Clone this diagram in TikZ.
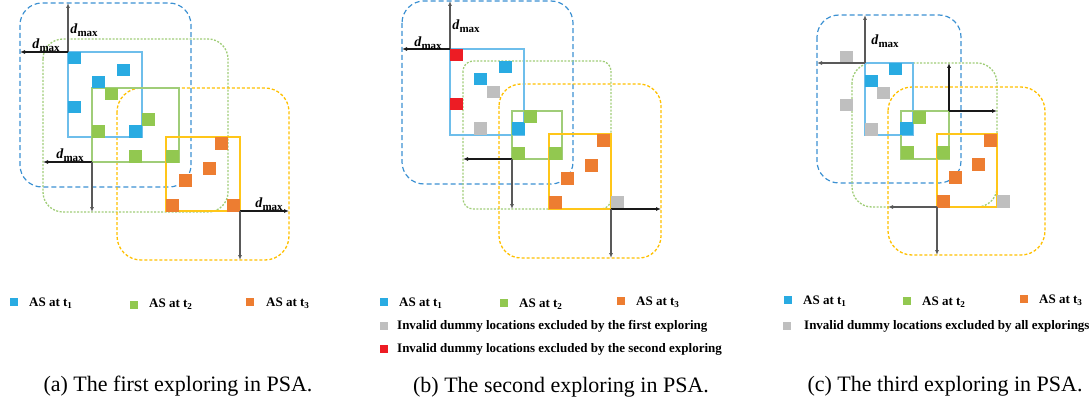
\documentclass[tikz,border=0pt]{standalone}
\usepackage{fontspec}
\setmainfont{Liberation Serif}
\usetikzlibrary{arrows.meta}
\definecolor{asblue}{RGB}{41,171,226}
\definecolor{asgreen}{RGB}{146,200,80}
\definecolor{asorange}{RGB}{237,125,49}
\definecolor{asgray}{RGB}{191,191,191}
\definecolor{asred}{RGB}{237,28,36}
\definecolor{outblue}{RGB}{60,145,210}
\definecolor{boxblue}{RGB}{110,190,235}
\definecolor{outgreen}{RGB}{160,205,120}
\definecolor{outyellow}{RGB}{255,192,0}
\newcommand{\dmax}{\textbf{\textit{d}}\raisebox{-3pt}{\fontsize{11}{12}\selectfont\bfseries max}}
\begin{document}
\begin{tikzpicture}[x=1pt, y=-1pt,
	blueout/.style={draw=outblue, line width=1.2pt, dash pattern=on 5pt off 3pt},
	greenout/.style={draw=outgreen, line width=1.3pt, dash pattern=on 2pt off 1.5pt},
	yellowout/.style={draw=outyellow, line width=1.3pt, dash pattern=on 3pt off 2pt},
	bluebox/.style={draw=boxblue, line width=1.8pt},
	greenbox/.style={draw=outgreen, line width=1.8pt},
	yellowbox/.style={draw=outyellow!90, line width=1.8pt},
	hor/.style={line width=1.4pt, black!90, -{Latex[length=5pt,width=4pt]}},
	ver/.style={line width=1.4pt, black!65, -{Latex[length=5pt,width=4pt]}},
	lab/.style={font=\fontsize{14}{16}\selectfont, inner sep=0pt},
	leg/.style={font=\fontsize{13}{15}\selectfont\bfseries, inner sep=0pt, anchor=west},
	capt/.style={font=\fontsize{22}{26}\selectfont, inner sep=0pt}]
	\useasboundingbox (0,0) rectangle (1091,409);

	% (a) first exploring
	\draw[blueout, rounded corners=22pt] (20,3) rectangle (191,187);
	\draw[greenout, rounded corners=20pt] (43,39) rectangle (228,212);
	\draw[yellowout, rounded corners=24pt] (117,88) rectangle (289,260);
	\draw[bluebox] (68,52) rectangle (142,137);
	\draw[greenbox] (92,88) rectangle (179,162);
	\draw[yellowbox] (166,137) rectangle (240,211);
	\fill[asblue] (68,52) rectangle +(12.5,12.5);
	\fill[asblue] (117,64) rectangle +(12.5,12.5);
	\fill[asblue] (92,76) rectangle +(12.5,12.5);
	\fill[asblue] (68,101) rectangle +(12.5,12.5);
	\fill[asblue] (129,125) rectangle +(12.5,12.5);
	\fill[asgreen] (105,88) rectangle +(12.5,12.5);
	\fill[asgreen] (142,113) rectangle +(12.5,12.5);
	\fill[asgreen] (92,125) rectangle +(12.5,12.5);
	\fill[asgreen] (129,150) rectangle +(12.5,12.5);
	\fill[asgreen] (166,150) rectangle +(12.5,12.5);
	\fill[asorange] (215,137) rectangle +(12.5,12.5);
	\fill[asorange] (203,162) rectangle +(12.5,12.5);
	\fill[asorange] (179,174) rectangle +(12.5,12.5);
	\fill[asorange] (166,199) rectangle +(12.5,12.5);
	\fill[asorange] (227,199) rectangle +(12.5,12.5);
	\coordinate (a1) at (68,52);
	\coordinate (a1up) at (68,3);
	\coordinate (a1left) at (20,52);
	\coordinate (a2) at (92,162);
	\coordinate (a2left) at (43,162);
	\coordinate (a2down) at (92,212);
	\coordinate (a3) at (240,211);
	\coordinate (a3right) at (289,211);
	\coordinate (a3down) at (240,260);
	\draw[ver] (a1) -- (a1up);
	\draw[hor] (a1) -- (a1left);
	\draw[hor] (a2) -- (a2left);
	\draw[ver] (a2) -- (a2down);
	\draw[hor] (a3) -- (a3right);
	\draw[ver] (a3) -- (a3down);
	\node[lab] (da1) at (84,30) {\dmax};
	\node[lab] (da2) at (46,45) {\dmax};
	\node[lab] (da3) at (70,155) {\dmax};
	\node[lab] (da4) at (269,204) {\dmax};
	\fill[asblue] (10,298) rectangle (18,306);
	\node[leg] (legA1) at (29,303) {AS at t\textsubscript{1}};
	\fill[asgreen] (130,301) rectangle (138,309);
	\node[leg] (legA2) at (149,304) {AS at t\textsubscript{2}};
	\fill[asorange] (246,298) rectangle (254,306);
	\node[leg] (legA3) at (266,303) {AS at t\textsubscript{3}};
	\node[capt] (capA) at (178,386) {(a) The first exploring in PSA.};

	% (b) second exploring
	\draw[blueout, rounded corners=22pt] (402,1) rectangle (573,184);
	\draw[greenout, rounded corners=10pt] (463,61) rectangle (611,209);
	\draw[yellowout, rounded corners=22pt] (499,84) rectangle (661,258);
	\draw[bluebox] (450,49) rectangle (524,135);
	\draw[greenbox] (512,111) rectangle (562,159);
	\draw[yellowbox] (549,134) rectangle (611,209);
	\fill[asred] (450,49) rectangle +(12.5,12.5);
	\fill[asred] (450,98) rectangle +(12.5,12.5);
	\fill[asblue] (499,61) rectangle +(12.5,12.5);
	\fill[asblue] (474,73) rectangle +(12.5,12.5);
	\fill[asblue] (512,122) rectangle +(12.5,12.5);
	\fill[asgray] (487,86) rectangle +(12.5,12.5);
	\fill[asgray] (474,122) rectangle +(12.5,12.5);
	\fill[asgray] (611,196) rectangle +(12.5,12.5);
	\fill[asgreen] (524,110) rectangle +(12.5,12.5);
	\fill[asgreen] (512,147) rectangle +(12.5,12.5);
	\fill[asgreen] (549,147) rectangle +(12.5,12.5);
	\fill[asorange] (597,134) rectangle +(12.5,12.5);
	\fill[asorange] (585,159) rectangle +(12.5,12.5);
	\fill[asorange] (561,172) rectangle +(12.5,12.5);
	\fill[asorange] (549,196) rectangle +(12.5,12.5);
	\coordinate (b1) at (450,49);
	\coordinate (b1up) at (450,1);
	\coordinate (b1left) at (402,49);
	\coordinate (b2) at (512,159);
	\coordinate (b2left) at (463,159);
	\coordinate (b2down) at (512,209);
	\coordinate (b3) at (611,209);
	\coordinate (b3right) at (661,209);
	\coordinate (b3down) at (611,258);
	\draw[ver] (b1) -- (b1up);
	\draw[hor] (b1) -- (b1left);
	\draw[hor] (b2) -- (b2left);
	\draw[ver] (b2) -- (b2down);
	\draw[hor] (b3) -- (b3right);
	\draw[ver] (b3) -- (b3down);
	\node[lab] (db1) at (466,26) {\dmax};
	\node[lab] (db2) at (428,43) {\dmax};
	\fill[asblue] (380,298) rectangle (388,306);
	\node[leg] (legB1) at (399,303) {AS at t\textsubscript{1}};
	\fill[asgreen] (500,299) rectangle (508,307);
	\node[leg] (legB2) at (519,304) {AS at t\textsubscript{2}};
	\fill[asorange] (617,297) rectangle (625,305);
	\node[leg] (legB3) at (636,302) {AS at t\textsubscript{3}};
	\fill[asgray] (380,322) rectangle (388,330);
	\node[leg] (legB4) at (397,326) {Invalid dummy locations excluded by the first exploring};
	\fill[asred] (380,345) rectangle (388,353);
	\node[leg] (legB5) at (397,349) {Invalid dummy locations excluded by the second exploring};
	\node[capt] (capB) at (561,387) {(b) The second exploring in PSA.};

	% (c) third exploring
	\draw[blueout, rounded corners=22pt] (817,15) rectangle (961,183);
	\draw[greenout, rounded corners=20pt] (852,63) rectangle (997,207);
	\draw[yellowout, rounded corners=24pt] (888,87) rectangle (1045,255);
	\draw[bluebox] (865,63) rectangle (913,135);
	\draw[greenbox] (901,111) rectangle (949,159);
	\draw[yellowbox] (937,134) rectangle (997,207);
	\fill[asgray] (840,51) rectangle +(12.5,12.5);
	\fill[asgray] (877,87) rectangle +(12.5,12.5);
	\fill[asgray] (840,99) rectangle +(12.5,12.5);
	\fill[asgray] (865,123) rectangle +(12.5,12.5);
	\fill[asgray] (997,195) rectangle +(12.5,12.5);
	\fill[asblue] (889,63) rectangle +(12.5,12.5);
	\fill[asblue] (865,75) rectangle +(12.5,12.5);
	\fill[asblue] (900,122) rectangle +(12.5,12.5);
	\fill[asgreen] (913,111) rectangle +(12.5,12.5);
	\fill[asgreen] (901,146) rectangle +(12.5,12.5);
	\fill[asgreen] (937,146) rectangle +(12.5,12.5);
	\fill[asorange] (984,134) rectangle +(12.5,12.5);
	\fill[asorange] (972,158) rectangle +(12.5,12.5);
	\fill[asorange] (949,171) rectangle +(12.5,12.5);
	\fill[asorange] (937,195) rectangle +(12.5,12.5);
	\coordinate (c1) at (865,63);
	\coordinate (c1up) at (865,15);
	\coordinate (c1left) at (817,63);
	\coordinate (c2) at (949,111);
	\coordinate (c2up) at (949,63);
	\coordinate (c2right) at (997,111);
	\coordinate (c3) at (937,207);
	\coordinate (c3left) at (888,207);
	\coordinate (c3down) at (937,255);
	\draw[ver] (c1) -- (c1up);
	\draw[ver] (c1) -- (c1left);
	\draw[hor] (c2) -- (c2up);
	\draw[hor] (c2) -- (c2right);
	\draw[ver] (c3) -- (c3left);
	\draw[ver] (c3) -- (c3down);
	\node[lab] (dc1) at (885,41) {\dmax};
	\fill[asblue] (784,296) rectangle (792,304);
	\node[leg] (legC1) at (803,301) {AS at t\textsubscript{1}};
	\fill[asgreen] (903,297) rectangle (911,305);
	\node[leg] (legC2) at (922,302) {AS at t\textsubscript{2}};
	\fill[asorange] (1020,295) rectangle (1028,303);
	\node[leg] (legC3) at (1039,300) {AS at t\textsubscript{3}};
	\fill[asgray] (783,322) rectangle (791,330);
	\node[leg] (legC4) at (804,326) {Invalid dummy locations excluded by all explorings};
	\node[capt] (capC) at (945,386) {(c) The third exploring in PSA.};
\end{tikzpicture}
\end{document}
